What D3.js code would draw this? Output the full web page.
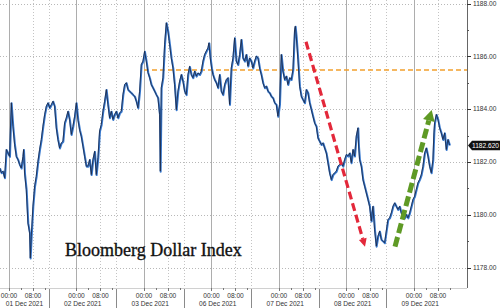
<!DOCTYPE html>
<html>
<head>
<meta charset="utf-8">
<script src="https://cdn.jsdelivr.net/npm/d3@7"></script>
<style>
  html, body { margin: 0; padding: 0; background: #fff; }
  svg { display: block; font-family: "Liberation Sans", Arial, sans-serif; }
</style>
</head>
<body>
<svg id="chart" width="500" height="308"></svg>
<script>
// Session days shown on the axis
const days = ["01 Dec 2021", "02 Dec 2021", "03 Dec 2021", "06 Dec 2021",
              "07 Dec 2021", "08 Dec 2021", "09 Dec 2021"];

// Hours along the session axis (0 = 01 Dec 00:00, each session is 22.5h)
const hours = [
  -3.0, -2.44, -1.89, -1.33, -0.78, -0.22, 0.33, 0.89, 1.44, 2.0, 2.56, 3.11, 3.67, 4.22, 4.78, 5.0,
  5.33, 5.89, 6.44, 7.0, 7.22, 7.56, 8.11, 8.67, 9.22, 9.78, 10.33, 10.89, 11.44, 12.0, 12.56, 13.11,
  13.67, 14.22, 14.78, 15.33, 15.89, 16.44, 17.0, 17.56, 18.11, 18.67, 19.22, 19.78, 20.33, 20.89, 21.44, 22.0,
  22.56, 23.11, 23.67, 24.22, 24.78, 25.33, 25.89, 26.44, 27.0, 27.56, 28.11, 28.67,
  29.22, 29.78, 30.33, 30.89, 31.44, 32.0, 32.56, 33.11, 33.67, 34.22, 34.78, 35.33, 35.89, 36.44, 37.0, 37.56,
  38.11, 38.67, 39.22, 39.78, 40.33, 40.89, 41.44, 42.0, 42.56, 43.11, 43.67, 44.22, 44.78, 45.33, 45.89, 46.44,
  47.0, 47.56, 48.11, 48.67, 49.22, 49.78, 50.33, 50.56, 50.89, 51.44, 52.0, 52.56, 53.11, 53.67, 54.22, 54.78,
  55.33, 55.89, 56.44, 57.0, 57.56, 58.11, 58.67, 59.22, 59.78, 60.33,
  60.89, 61.44, 62.0, 62.56, 63.11, 63.67, 64.22, 64.78, 65.33, 65.89, 66.44, 66.78, 67.22, 67.67, 68.11, 68.67,
  69.22, 69.78, 70.33, 70.89, 71.44, 72.0, 72.56, 73.11, 73.67, 74.22, 74.78, 75.33, 75.89, 76.44, 77.0, 77.56,
  78.11, 78.67, 79.22, 79.78, 80.33, 80.89, 81.44, 82.0, 82.56, 83.11, 83.67, 84.22, 84.78, 85.33, 85.89, 86.44,
  87.0, 87.56, 88.11, 88.67, 89.22, 89.78, 90.33, 90.89, 91.44,
  92.0, 92.56, 93.11, 93.67, 94.22, 94.78, 95.33, 95.56, 95.89, 96.44, 97.0, 97.56, 98.11, 98.67, 99.22, 99.78,
  100.33, 100.89, 101.44, 102.0, 102.56, 103.11, 103.67, 104.22, 104.78, 105.33, 105.89, 106.44, 107.0, 107.56, 108.11, 108.67,
  109.22, 109.78, 110.33, 110.89, 111.44, 112.0, 112.56, 113.11, 113.67, 114.22, 114.78, 115.33, 115.89, 116.44, 116.67, 117.0,
  117.56, 118.11, 118.67, 119.22, 119.78, 120.33, 120.89, 121.44, 122.0, 122.56,
  123.11, 123.67, 124.22, 124.78, 125.33, 126.44, 127.0, 127.56, 128.11, 128.67, 129.22, 129.78, 130.33, 130.89, 131.44, 132.0,
  132.56, 133.11, 133.67, 134.22, 134.78, 135.33, 135.89, 136.44, 137.0, 137.56, 138.11, 138.67, 139.22, 139.78, 140.33, 140.89,
  141.44, 141.78, 142.0, 142.56, 143.11, 143.67, 144.22, 144.78, 145.33, 145.89, 146.44, 147.0
];

// Bloomberg Dollar Index values
const values = [
  1181.76, 1181.57, 1181.63, 1181.38, 1182.45, 1182.32, 1182.19, 1184.22, 1183.33, 1182.64, 1182.19, 1182.07, 1181.88, 1181.75, 1182.19, 1182.45,
  1181.56, 1180.93, 1179.67, 1179.29, 1178.34, 1179.16, 1180.30, 1181.06, 1181.44, 1182.01, 1182.45, 1182.83, 1183.33, 1183.77, 1184.09, 1184.22,
  1184.03, 1184.15, 1184.28, 1184.09, 1183.27, 1182.83, 1182.51, 1182.70, 1182.76, 1183.46, 1183.65, 1183.90, 1183.58, 1183.02, 1183.33, 1183.71,
  1184.22, 1183.58, 1183.20, 1182.95, 1182.57, 1182.19, 1181.82, 1181.82, 1182.07, 1181.50, 1182.07, 1182.38,
  1181.50, 1182.14, 1183.15, 1183.40, 1183.90, 1184.28, 1184.72, 1184.15, 1183.65, 1183.90, 1183.59, 1183.78, 1183.90, 1183.65, 1183.84, 1183.90,
  1184.53, 1184.91, 1184.98, 1184.72, 1184.66, 1184.60, 1184.53, 1184.47, 1184.28, 1184.03, 1184.66, 1185.67, 1185.80, 1186.17, 1185.80, 1185.37,
  1185.17, 1184.91, 1184.79, 1184.66, 1184.53, 1184.41, 1183.78, 1181.63, 1184.79, 1185.17, 1186.43, 1187.25, 1186.93, 1186.43, 1185.92, 1185.54,
  1184.91, 1183.96, 1184.66, 1185.04, 1185.29, 1185.04, 1184.66, 1184.53, 1185.29, 1185.60,
  1185.29, 1185.17, 1185.42, 1185.23, 1185.35, 1185.29, 1185.42, 1185.80, 1186.05, 1186.18, 1186.30, 1186.49, 1185.92, 1185.54, 1185.29, 1185.10,
  1184.98, 1184.79, 1185.29, 1184.66, 1184.53, 1184.91, 1185.10, 1185.17, 1184.16, 1185.54, 1185.92, 1186.68, 1185.80, 1185.67, 1186.05, 1186.62,
  1185.92, 1185.80, 1186.05, 1185.61, 1185.92, 1185.80, 1185.54, 1185.80, 1185.99, 1185.92, 1185.54, 1185.29, 1184.98, 1184.79, 1184.85, 1184.66,
  1184.60, 1184.47, 1184.41, 1184.22, 1184.16, 1183.71, 1184.16, 1186.05, 1185.42,
  1185.10, 1185.23, 1184.91, 1185.17, 1185.10, 1185.48, 1186.99, 1187.12, 1186.74, 1185.86, 1184.85, 1184.47, 1184.34, 1184.22, 1184.72, 1184.60,
  1184.22, 1183.97, 1183.71, 1183.46, 1183.33, 1182.89, 1182.76, 1182.64, 1182.70, 1182.51, 1182.32, 1181.95, 1181.57, 1181.31, 1181.50, 1181.57,
  1181.63, 1181.82, 1181.88, 1181.95, 1181.82, 1182.07, 1182.26, 1182.20, 1182.32, 1181.95, 1182.45, 1182.20, 1182.96, 1183.27, 1182.58, 1182.07,
  1181.82, 1181.31, 1181.06, 1180.81, 1180.56, 1180.30, 1179.74, 1180.30, 1179.42, 1178.79,
  1179.17, 1179.36, 1179.04, 1178.98, 1178.92, 1179.80, 1179.86, 1180.05, 1180.30, 1180.43, 1180.30, 1180.18, 1180.30, 1180.05, 1179.93, 1179.86,
  1179.99, 1179.86, 1180.05, 1180.30, 1180.56, 1180.68, 1180.94, 1181.19, 1181.32, 1181.50, 1181.82, 1182.32, 1182.51, 1182.20, 1181.82, 1181.57,
  1182.07, 1183.08, 1183.46, 1183.78, 1183.59, 1183.27, 1183.08, 1182.83, 1183.08, 1182.45, 1182.83, 1182.62
];

const yTicks = [1178, 1180, 1182, 1184, 1186, 1188];
const yMinorTicks = [1179, 1181, 1183, 1185, 1187];
const lastValue = 1182.62;
const refLevel = 1185.48;           // orange dashed level
const refStart = 45;                // from 03 Dec 00:00
const redArrow = [[99, 1186.55], [118.67, 1178.79]];
const greenArrow = [[128.67, 1178.79], [140.9, 1183.97]];

const sessionLen = 22.5;   // hours per session on the axis
const preMidnight = 9.17;  // session starts this long before 00:00

const W = 500, H = 308;
const plotRight = 467, plotBottom = 288;

const svg = d3.select("#chart");

const x = d3.scaleLinear().domain([-3, 152.67]).range([0, plotRight]);
const y = d3.scaleLinear().domain([1178, 1188]).range([267.5, 3.5]);

const grid = svg.append("g");

// horizontal dotted gridlines
grid.selectAll(".hgrid").data(yTicks).enter().append("line")
  .attr("x1", 0).attr("x2", plotRight)
  .attr("y1", d => Math.round(y(d)) + 0.5).attr("y2", d => Math.round(y(d)) + 0.5)
  .attr("stroke", "#b8b8b8").attr("stroke-width", 1).attr("stroke-dasharray", "1,2");

// vertical gridlines per session
days.forEach((d, k) => {
  const mid = k * sessionLen;
  const sep = mid - preMidnight;
  // 00:00 solid
  grid.append("line")
    .attr("x1", Math.round(x(mid)) + 0.5).attr("x2", Math.round(x(mid)) + 0.5)
    .attr("y1", 0).attr("y2", plotBottom)
    .attr("stroke", "#adadad");
  // 08:00 dotted
  grid.append("line")
    .attr("x1", Math.round(x(mid + 8)) + 0.5).attr("x2", Math.round(x(mid + 8)) + 0.5)
    .attr("y1", 0).attr("y2", plotBottom)
    .attr("stroke", "#c4c4c4").attr("stroke-dasharray", "1,2");
  // session boundary dotted in plot, solid below axis
  if (k > 0) {
    const sx = Math.round(x(sep)) + 0.5;
    grid.append("line")
      .attr("x1", sx).attr("x2", sx).attr("y1", 0).attr("y2", plotBottom)
      .attr("stroke", "#c4c4c4").attr("stroke-dasharray", "1,2");
    grid.append("line")
      .attr("x1", sx).attr("x2", sx).attr("y1", plotBottom).attr("y2", H)
      .attr("stroke", "#8a8a8a");
  }
});

// bottom axis line + ticks
grid.append("line")
  .attr("x1", 0).attr("x2", plotRight).attr("y1", plotBottom + 0.5).attr("y2", plotBottom + 0.5)
  .attr("stroke", "#d0d0d0");

const xa = svg.append("g").attr("font-size", 6.6).attr("fill", "#333");
days.forEach((d, k) => {
  const mid = k * sessionLen;
  const sep = mid - preMidnight;
  [0, 4, 8, 12].forEach(h => {
    const tx = Math.round(x(mid + h)) + 0.5;
    if (tx > plotRight) return;
    xa.append("line").attr("x1", tx).attr("x2", tx)
      .attr("y1", plotBottom).attr("y2", plotBottom + (h % 8 === 0 ? 3 : 2))
      .attr("stroke", "#777");
  });
  xa.append("text").attr("x", x(mid)).attr("y", 298).attr("text-anchor", "middle").text("00:00");
  xa.append("text").attr("x", x(mid + 8)).attr("y", 298).attr("text-anchor", "middle").text("08:00");
  const a = Math.max(0, x(sep)), b = Math.min(plotRight, x(sep + sessionLen));
  xa.append("text").attr("x", (a + b) / 2).attr("y", 306).attr("text-anchor", "middle").text(d);
});

// orange reference level
svg.append("line")
  .attr("x1", x(refStart)).attr("x2", plotRight)
  .attr("y1", y(refLevel)).attr("y2", y(refLevel))
  .attr("stroke", "#f2a02c").attr("stroke-width", 1.6).attr("stroke-dasharray", "5,3");

// price line: blue body with a thin dark trace on top
const pts = hours.map((h, i) => [h, values[i]]);
const line = d3.line().x(d => x(d[0])).y(d => y(d[1]));
svg.append("path").datum(pts)
  .attr("d", line).attr("fill", "none")
  .attr("stroke", "#3a7bd0").attr("stroke-width", 2).attr("stroke-linejoin", "round");
svg.append("path").datum(pts)
  .attr("d", line).attr("fill", "none").attr("transform", "translate(-0.4,-0.5)")
  .attr("stroke", "#1a2540").attr("stroke-width", 0.8).attr("stroke-linejoin", "round");

// dashed arrows
function arrow(p, color, width, dash, headLen, headW) {
  const x0 = x(p[0][0]), y0 = y(p[0][1]), x1 = x(p[1][0]), y1 = y(p[1][1]);
  const dx = x1 - x0, dy = y1 - y0, len = Math.hypot(dx, dy);
  const ux = dx / len, uy = dy / len;
  const bx = x1 - ux * headLen, by = y1 - uy * headLen;
  svg.append("line").attr("x1", x0).attr("y1", y0).attr("x2", bx).attr("y2", by)
    .attr("stroke", color).attr("stroke-width", width).attr("stroke-dasharray", dash);
  const px = -uy * headW / 2, py = ux * headW / 2;
  svg.append("path")
    .attr("d", `M${x1},${y1}L${bx + px},${by + py}L${bx - px},${by - py}Z`)
    .attr("fill", color);
}
arrow(redArrow, "#e3283a", 3.2, "8,4", 8, 8);
arrow(greenArrow, "#5f9a25", 5, "10,4", 11, 12);

// right axis
const ya = svg.append("g");
ya.append("line").attr("x1", plotRight + 0.5).attr("x2", plotRight + 0.5)
  .attr("y1", 0).attr("y2", plotBottom).attr("stroke", "#666");
ya.selectAll(".maj").data(yTicks).enter().append("line")
  .attr("x1", plotRight).attr("x2", plotRight + 4)
  .attr("y1", d => Math.round(y(d)) + 0.5).attr("y2", d => Math.round(y(d)) + 0.5)
  .attr("stroke", "#333");
ya.selectAll(".min").data(yMinorTicks).enter().append("line")
  .attr("x1", plotRight).attr("x2", plotRight + 2)
  .attr("y1", d => Math.round(y(d)) + 0.5).attr("y2", d => Math.round(y(d)) + 0.5)
  .attr("stroke", "#555");
ya.selectAll(".lbl").data(yTicks).enter().append("text")
  .attr("x", plotRight + 6).attr("y", d => y(d) + 2.3)
  .attr("font-size", 6.6).attr("fill", "#333")
  .text(d => d3.format(".2f")(d));

// last value tag
const ly = y(lastValue);
svg.append("path")
  .attr("d", `M${plotRight + 1},${ly}L${plotRight + 5},${ly - 4.8}L${W},${ly - 4.8}L${W},${ly + 4.8}L${plotRight + 5},${ly + 4.8}Z`)
  .attr("fill", "#111");
svg.append("text").attr("x", plotRight + 5).attr("y", ly + 2.4)
  .attr("font-size", 6.6).attr("fill", "#fff").text(lastValue.toFixed(3));

// title
svg.append("text")
  .attr("x", 65).attr("y", 256)
  .attr("font-family", "'Liberation Serif', 'Times New Roman', serif")
  .attr("font-size", 18).attr("fill", "#111")
  .attr("stroke", "#111").attr("stroke-width", 0.35)
  .text("Bloomberg Dollar Index");
</script>
</body>
</html>
